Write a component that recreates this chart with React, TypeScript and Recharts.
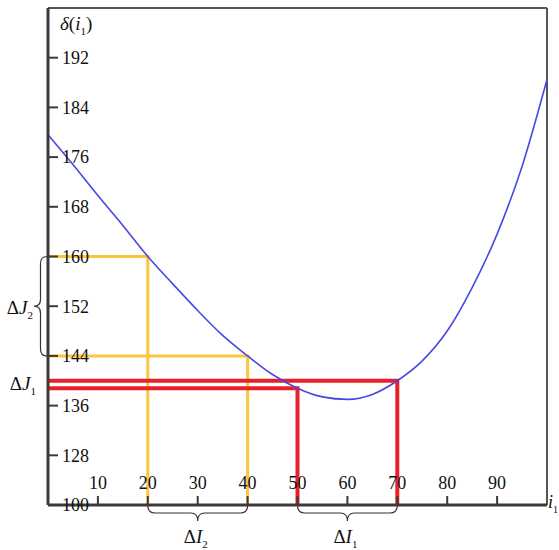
import React from "react";
import { LineChart, Line, XAxis, YAxis, ReferenceLine, ReferenceArea } from "recharts";

// δ(i1) curve
const curveX = [0, 5, 10, 15, 20, 25, 30, 35, 40, 45, 50, 55, 60, 65, 70, 75, 80, 85, 90, 95, 100];
const curveY = [179.6, 174.8, 169.8, 165, 160, 155.6, 151.3, 147.3, 144, 141, 138.8, 137.4, 137, 137.8, 140, 143.2, 148, 155, 163.6, 174.5, 188.5];

const xTicks = [10, 20, 30, 40, 50, 60, 70, 80, 90];
const yTicks = [120, 128, 136, 144, 152, 160, 168, 176, 184, 192];
const yTickLabels = ["100", "128", "136", "144", "152", "160", "168", "176", "184", "192"];

// construction lines: [x, yLevel]
const yellowA = [20, 160];
const yellowB = [40, 144];
const redA = [70, 140];
const redB = [50, 138.8];
const Y_MIN = 120;
const Y_MAX = 200;

const FONT = '"Liberation Serif", "DejaVu Serif", serif';
const YELLOW = "#fbc53c";
const RED = "#e8202a";

const curve = curveX.map((x, i) => ({ x, y: curveY[i] }));
const corner = ([x, y]: number[]) => [{ x: 0, y }, { x, y }, { x, y: Y_MIN }];

const hBrace = (x1: number, x2: number, y: number, d: number) => {
  const m = (x1 + x2) / 2, h = y + d / 2, r = 7;
  return `M${x1},${y} Q${x1},${h} ${x1 + r},${h} L${m - r},${h} Q${m},${h} ${m},${y + d} Q${m},${h} ${m + r},${h} L${x2 - r},${h} Q${x2},${h} ${x2},${y}`;
};
const vBrace = (x: number, y1: number, y2: number, d: number) => {
  const m = (y1 + y2) / 2, w = x - d / 2, r = 7;
  return `M${x},${y1} Q${w},${y1} ${w},${y1 + r} L${w},${m - r} Q${w},${m} ${x - d},${m} Q${w},${m} ${w},${m + r} L${w},${y2 - r} Q${w},${y2} ${x},${y2}`;
};

const Delta = ({ x, y, sym, sub, anchor }: any) => (
  <text x={x} y={y} fontFamily={FONT} fontSize={19} fill="#111" textAnchor={anchor}>
    <tspan>Δ</tspan>
    <tspan fontStyle="italic">{sym}</tspan>
    <tspan fontSize={11} dy={5}>{sub}</tspan>
  </text>
);

export default function App() {
  return (
    <div style={{ position: "absolute", left: 0, top: 0, background: "#fff" }}>
      <LineChart width={559} height={550} data={curve} margin={{ top: 8, right: 12, bottom: 45, left: 48 }}>
        <XAxis
          dataKey="x"
          type="number"
          domain={[0, 100]}
          ticks={xTicks}
          mirror
          tickSize={9}
          tickMargin={7}
          stroke="#3a3a3a"
          axisLine={{ strokeWidth: 3 }}
          tickLine={{ strokeWidth: 2 }}
          tick={{ fill: "#111", fontSize: 18, fontFamily: FONT }}
        />
        <YAxis
          type="number"
          domain={[Y_MIN, Y_MAX]}
          ticks={yTicks}
          tickFormatter={(v: number) => yTickLabels[yTicks.indexOf(v)]}
          mirror
          tickSize={10}
          tickMargin={4}
          stroke="#3a3a3a"
          axisLine={{ strokeWidth: 3 }}
          tickLine={{ strokeWidth: 2 }}
          tick={{ fill: "#111", fontSize: 18, fontFamily: FONT }}
        />
        <ReferenceLine
          y={Y_MAX}
          stroke="#555"
          strokeWidth={2}
          label={{
            content: (p: any) => (
              <text x={p.viewBox.x + 12} y={p.viewBox.y + 22} fontFamily={FONT} fontSize={19} fill="#111">
                <tspan fontStyle="italic">δ</tspan>(<tspan fontStyle="italic">i</tspan>
                <tspan fontSize={11} dy={5}>1</tspan>
                <tspan dy={-5}>)</tspan>
              </text>
            ),
          }}
        />
        <ReferenceLine
          x={100}
          stroke="#555"
          strokeWidth={2}
          label={{
            content: (p: any) => (
              <text x={p.viewBox.x + 1} y={p.viewBox.y + p.viewBox.height + 3} fontFamily={FONT} fontSize={18} fill="#111">
                <tspan fontStyle="italic">i</tspan>
                <tspan fontSize={10} dy={5}>1</tspan>
              </text>
            ),
          }}
        />
        <Line data={corner(yellowA)} dataKey="y" type="linear" stroke={YELLOW} strokeWidth={3} dot={false} isAnimationActive={false} />
        <Line data={corner(yellowB)} dataKey="y" type="linear" stroke={YELLOW} strokeWidth={3} dot={false} isAnimationActive={false} />
        <Line data={corner(redA)} dataKey="y" type="linear" stroke={RED} strokeWidth={4} dot={false} isAnimationActive={false} />
        <Line data={corner(redB)} dataKey="y" type="linear" stroke={RED} strokeWidth={4} dot={false} isAnimationActive={false} />
        <Line dataKey="y" type="monotone" stroke="#4848e6" strokeWidth={1.6} dot={false} isAnimationActive={false} />
        <ReferenceArea
          x1={0}
          x2={yellowA[0]}
          y1={yellowB[1]}
          y2={yellowA[1]}
          fill="none"
          stroke="none"
          shape={(p: any) => (
            <g>
              <path d={vBrace(p.x - 1, p.y, p.y + p.height, 13)} fill="none" stroke="#333" strokeWidth={1.2} />
              <Delta x={p.x - 15} y={p.y + p.height / 2 + 8} sym="J" sub="2" anchor="end" />
            </g>
          )}
        />
        <ReferenceArea
          x1={0}
          x2={redB[0]}
          y1={redB[1]}
          y2={redA[1]}
          fill="none"
          stroke="none"
          shape={(p: any) => <Delta x={p.x - 12} y={p.y + p.height / 2 + 6} sym="J" sub="1" anchor="end" />}
        />
        <ReferenceArea
          x1={yellowA[0]}
          x2={yellowB[0]}
          y1={Y_MIN}
          y2={yellowB[1]}
          fill="none"
          stroke="none"
          shape={(p: any) => (
            <g>
              <path d={hBrace(p.x, p.x + p.width, p.y + p.height, 16)} fill="none" stroke="#333" strokeWidth={1.2} />
              <Delta x={p.x + p.width / 2 - 2} y={p.y + p.height + 38} sym="I" sub="2" anchor="middle" />
            </g>
          )}
        />
        <ReferenceArea
          x1={redB[0]}
          x2={redA[0]}
          y1={Y_MIN}
          y2={redB[1]}
          fill="none"
          stroke="none"
          shape={(p: any) => (
            <g>
              <path d={hBrace(p.x, p.x + p.width, p.y + p.height, 16)} fill="none" stroke="#333" strokeWidth={1.2} />
              <Delta x={p.x + p.width / 2 - 2} y={p.y + p.height + 38} sym="I" sub="1" anchor="middle" />
            </g>
          )}
        />
      </LineChart>
    </div>
  );
}
